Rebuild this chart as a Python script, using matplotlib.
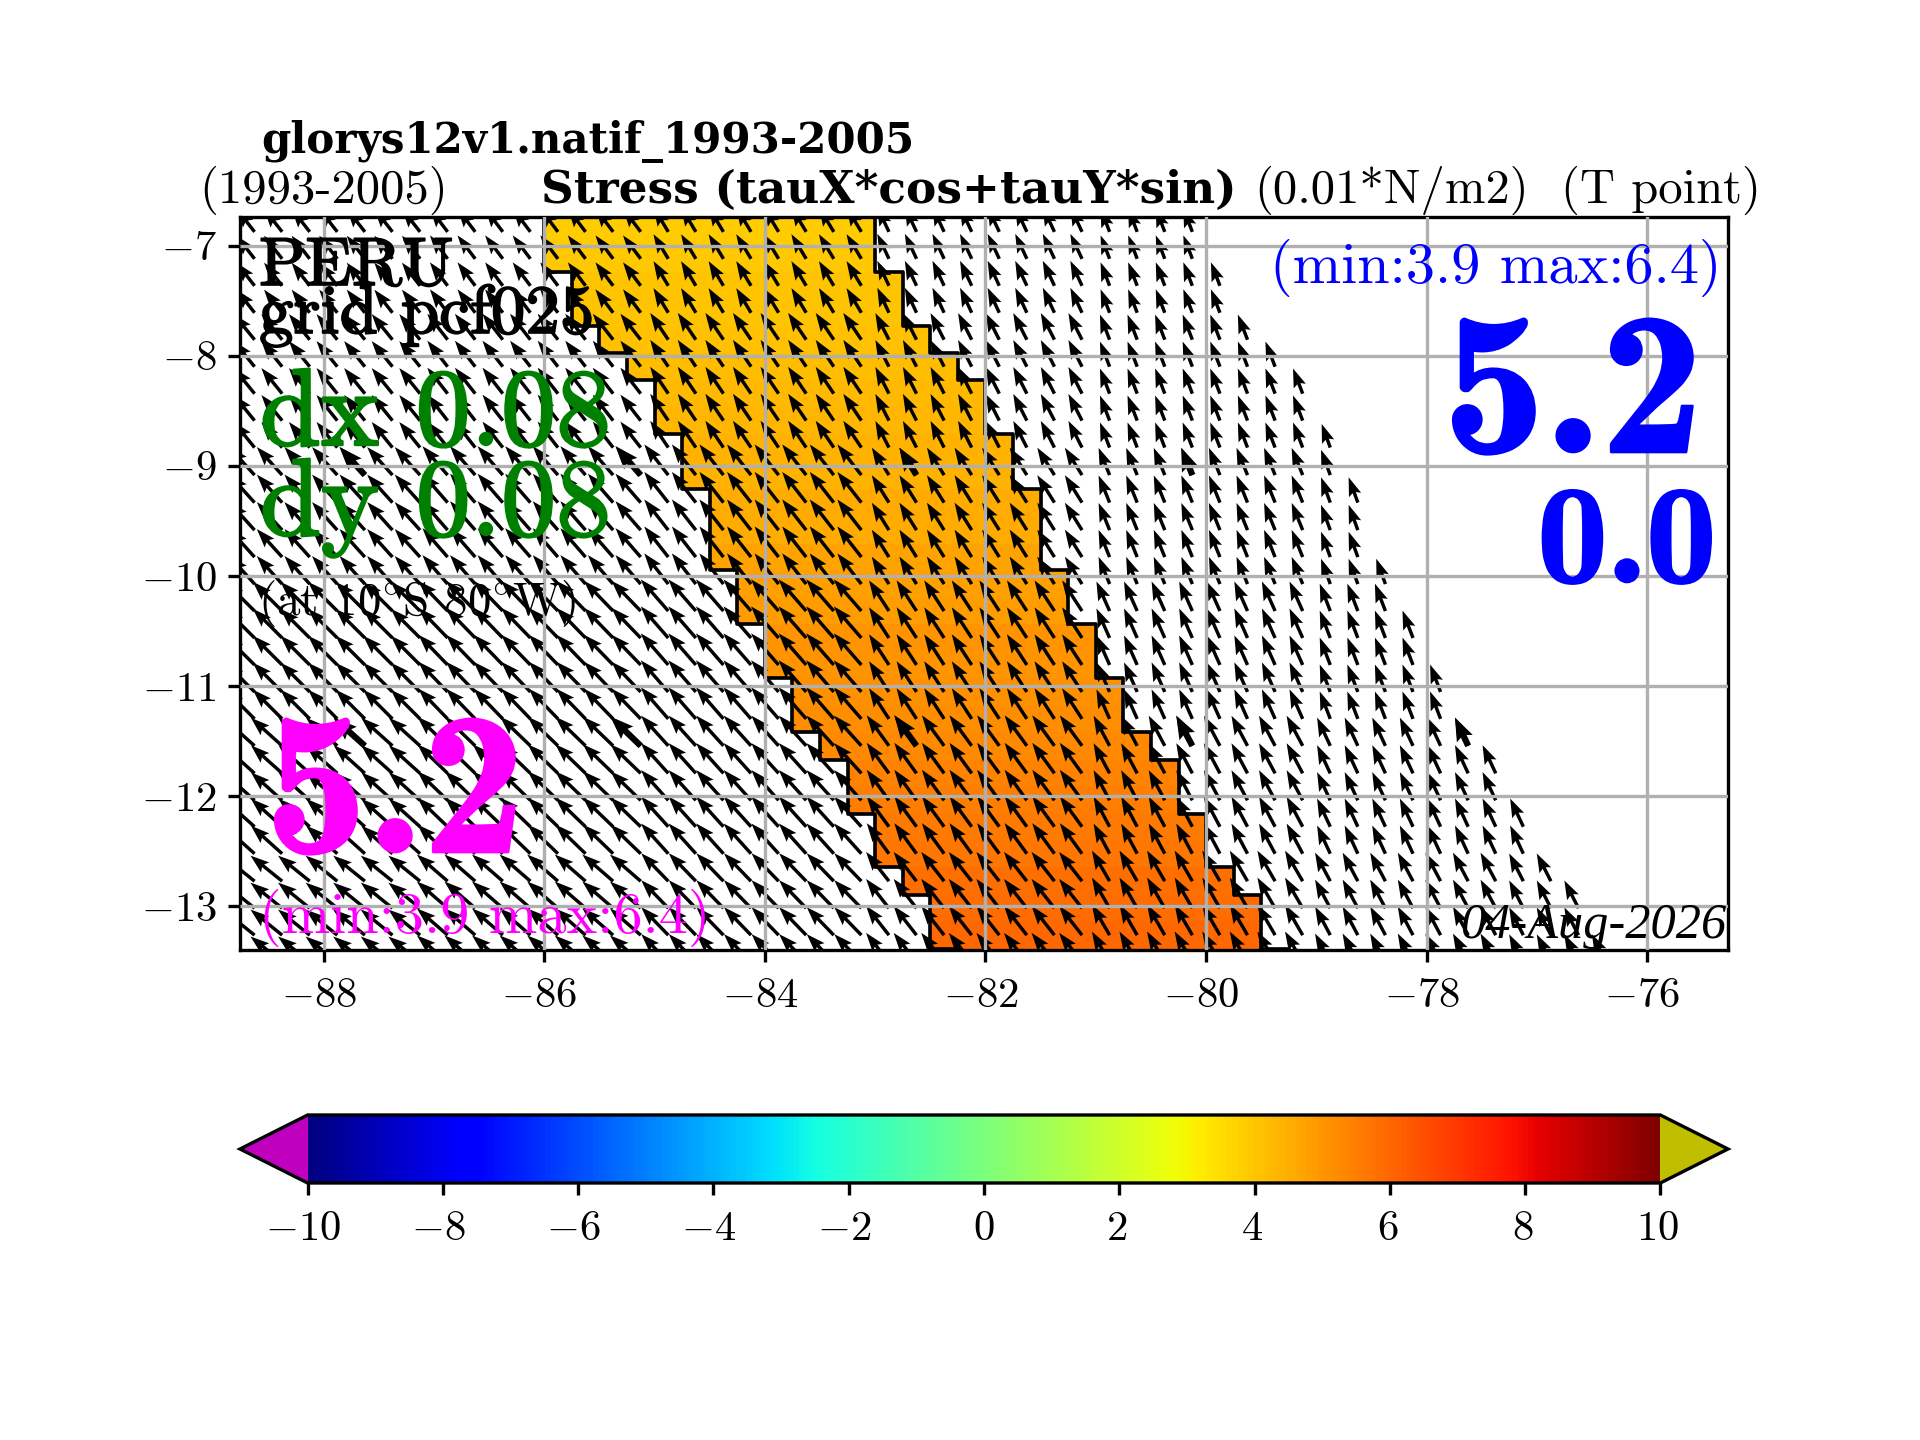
import numpy as np
import matplotlib
matplotlib.use("Agg")
import matplotlib.pyplot as plt
import matplotlib.patheffects as pe
from matplotlib.transforms import ScaledTranslation

plt.rcParams["font.family"] = ["cmr10", "DejaVu Sans"]
plt.rcParams["mathtext.fontset"] = "cm"
plt.rcParams["axes.formatter.use_mathtext"] = True
plt.rcParams["axes.unicode_minus"] = True
plt.rcParams["axes.linewidth"] = 1.0
plt.rcParams["xtick.major.width"] = 1.0
plt.rcParams["ytick.major.width"] = 1.0

# grid (row edges, north to south)
lat_edges = [-6.75, -7.00, -7.24, -7.49, -7.73, -7.98, -8.22, -8.47, -8.71, -8.96,
             -9.21, -9.46, -9.71, -9.95, -10.20, -10.44, -10.69, -10.93, -11.18,
             -11.42, -11.67, -11.92, -12.16, -12.40, -12.65, -12.90, -13.14, -13.39, -13.63]
lon_first = -88.75
dlon = 0.25

# coloured band: index of first/last cell edge in each row (counted from lon_first)
band_first = [11, 11, 12, 12, 13, 14, 15, 15, 16, 16, 17, 17, 17, 18, 18, 19, 19, 20,
              20, 21, 22, 22, 23, 23, 24, 25, 25, 26]
band_last = [23, 23, 24, 24, 25, 26, 27, 27, 28, 28, 29, 29, 29, 30, 30, 31, 31, 32,
             32, 33, 34, 34, 35, 35, 36, 37, 37, 38]
band_value = [3.9, 3.95, 4.0, 4.05, 4.1, 4.2, 4.25, 4.3, 4.4, 4.45, 4.55, 4.6, 4.7, 4.8,
              4.9, 5.0, 5.05, 5.15, 5.2, 5.3, 5.4, 5.5, 5.6, 5.7, 5.8, 5.9, 6.0, 6.1]

# last ocean column of the arrows in each row
arrow_last = [34, 34, 35, 35, 36, 37, 38, 38, 39, 39, 40, 40, 40, 41, 41, 42, 42, 43, 43,
              44, 45, 45, 46, 46, 47, 48, 48, 49]

# arrow readings per block of the map
block_lats = [-7.0, -8.25, -9.5, -10.75, -12.0, -13.25]
block_lons = [-88.0, -86.0, -84.0, -82.0, -80.0, -78.0, -76.5]
angle_table = [[38, 37, 31, 25, 21, 20, 20],
               [39, 38, 34, 27, 21, 20, 20],
               [42, 41, 38, 32, 22, 20, 20],
               [45, 44, 41, 33, 24, 21, 21],
               [48, 46, 42, 36, 28, 25, 25],
               [51, 49, 44, 38, 30, 28, 27]]
stress_table = [[4.9, 4.9, 4.8, 4.6, 4.2, 4.0, 4.0],
                [5.5, 5.5, 5.4, 5.0, 4.5, 4.2, 4.2],
                [6.3, 6.4, 6.5, 5.4, 4.9, 4.5, 4.5],
                [6.9, 7.0, 7.0, 6.1, 5.4, 4.9, 4.9],
                [7.0, 7.0, 6.8, 6.3, 5.7, 5.2, 5.2],
                [6.8, 6.8, 6.5, 6.2, 5.9, 5.4, 5.2]]

big_cols = [4, 14, 24, 34, 44]
big_rows = [9, 19]

xticks = [-88, -86, -84, -82, -80, -78, -76]
yticks = [-7, -8, -9, -10, -11, -12, -13]
cbar_ticks = [-10, -8, -6, -4, -2, 0, 2, 4, 6, 8, 10]

lat_edges = np.array(lat_edges)
nrow = len(lat_edges) - 1
ncol = 54
lon_edges = lon_first + dlon * np.arange(ncol + 1)
lon_c = 0.5 * (lon_edges[:-1] + lon_edges[1:])
lat_c = 0.5 * (lat_edges[:-1] + lat_edges[1:])

field = np.ma.masked_all((nrow, ncol))
for j in range(nrow):
    field[j, band_first[j]:band_last[j]] = band_value[j]

u = np.zeros((nrow, ncol))
v = np.zeros((nrow, ncol))
mask = np.ones((nrow, ncol), dtype=bool)
for j in range(nrow):
    jb = np.argmin(np.abs(np.array(block_lats) - lat_c[j]))
    for i in range(arrow_last[j] + 1):
        ib = np.argmin(np.abs(np.array(block_lons) - lon_c[i]))
        a = np.radians(angle_table[jb][ib])
        u[j, i] = -stress_table[jb][ib] * np.sin(a)
        v[j, i] = stress_table[jb][ib] * np.cos(a)
        mask[j, i] = False

fig = plt.figure(figsize=(8, 6), dpi=240)
ax = fig.add_axes([240 / 1920, 1 - 950 / 1440, 1488 / 1920, 733 / 1440])

mesh = ax.pcolormesh(lon_edges, lat_edges, field, cmap="jet", vmin=-10, vmax=10, zorder=1)

# black outline round the band
xs, ys = [], []
for j in range(nrow):
    xs += [lon_edges[band_first[j]], lon_edges[band_first[j]]]
    ys += [lat_edges[j], lat_edges[j + 1]]
ax.plot(xs, ys, color="k", lw=1.1, zorder=1.5)
xs, ys = [], []
for j in range(nrow):
    xs += [lon_edges[band_last[j]], lon_edges[band_last[j]]]
    ys += [lat_edges[j], lat_edges[j + 1]]
ax.plot(xs, ys, color="k", lw=1.1, zorder=1.5)

lon2, lat2 = np.meshgrid(lon_c, lat_c)
qkw = dict(angles="xy", scale_units="xy", scale=18.4, zorder=2, pivot="tail")
ax.quiver(lon2[~mask], lat2[~mask], u[~mask], v[~mask], width=0.0023, headwidth=3.8,
          headlength=5.5, headaxislength=4.75, **qkw)
big = np.zeros_like(mask)
for j in big_rows:
    for i in big_cols:
        big[j, i] = not mask[j, i]
ax.quiver(lon2[big], lat2[big], u[big], v[big], width=0.0042, headwidth=2.8,
          headlength=3.7, headaxislength=3.3, **qkw)

ax.set_xlim(-88.757, -75.27)
ax.set_ylim(-13.40, -6.74)
ax.set_xticks(xticks)
ax.set_yticks(yticks)
ax.tick_params(labelsize=12.8)
ax.tick_params(axis="x", pad=4.8)
ax.grid(True, lw=1.0)
ax.set_axisbelow(False)


def put(px, py, s, **kw):
    # pixel position of the baseline, top-left origin
    kw.setdefault("va", "baseline")
    return fig.text(px / 1920, 1 - py / 1440, s, **kw)


heavy = [pe.withStroke(linewidth=0.5, foreground="k")]
heavy_g = [pe.withStroke(linewidth=0.7, foreground="green")]
heavy_b = [pe.withStroke(linewidth=0.8, foreground="blue")]
heavy_m = [pe.withStroke(linewidth=0.8, foreground="magenta")]

put(261, 153, "glorys12v1.natif_1993-2005", fontsize=12.6, family="DejaVu Serif", weight="bold")
put(199, 203, "(1993-2005)", fontsize=14.6)
put(541, 203, "Stress (tauX*cos+tauY*sin)", fontsize=13.6, family="DejaVu Serif", weight="bold")
put(1254, 203, "(0.01*N/m2)", fontsize=14.6)
put(1561, 203, "(T point)", fontsize=14.6)

put(259, 285, "PERU", fontsize=20.5, path_effects=heavy)
put(259, 333, "grid pcf025", fontsize=20.7, path_effects=heavy)
put(260, 445, "dx 0.08", fontsize=33, color="green", path_effects=heavy_g)
put(260, 535, "dy 0.08", fontsize=33, color="green", path_effects=heavy_g)
put(258, 615, r"(at 10$^{\circ}$S 80$^{\circ}$W)", fontsize=14.1)
put(1722, 283, "(min:3.9 max:6.4)", fontsize=17.5, color="blue", ha="right")
put(1573, 452, "5.2", fontsize=61, color="blue", ha="center", family="cmb10", path_effects=heavy_b)
put(1627, 582, "0.0", fontsize=42, color="blue", ha="center", family="cmb10", path_effects=heavy_b)
put(395, 852, "5.2", fontsize=61, color="magenta", ha="center", family="cmb10", path_effects=heavy_m)
put(259, 933, "(min:3.9 max:6.4)", fontsize=17.5, color="magenta")
put(1726, 938, "04-Aug-2026", fontsize=15.1, ha="right", family="Liberation Serif", style="italic")

cax = fig.add_axes([240 / 1920, 1 - 1183 / 1440, 1488 / 1920, 68 / 1440])
cb = fig.colorbar(mesh, cax=cax, orientation="horizontal", extend="both", extendfrac=0.05,
                  ticks=cbar_ticks)
cb.cmap.set_under("m")
cb.cmap.set_over("y")
mesh.cmap.set_under("m")
mesh.cmap.set_over("y")
cb.update_normal(mesh)
cb.ax.tick_params(labelsize=12.8, pad=4.8)

# the labels sit a little left of their ticks, the negative ones most
fig.canvas.draw()
nudge = ScaledTranslation(-5 / 240, 0, fig.dpi_scale_trans)
nudge_pos = ScaledTranslation(-2.5 / 240, 0, fig.dpi_scale_trans)
for a in (ax, cb.ax):
    for t, val in zip(a.get_xticklabels(), a.get_xticks()):
        if val < 0:
            t.set_transform(t.get_transform() + nudge)
        elif val > 0:
            t.set_transform(t.get_transform() + nudge_pos)

fig.savefig("out.png", dpi=240)
